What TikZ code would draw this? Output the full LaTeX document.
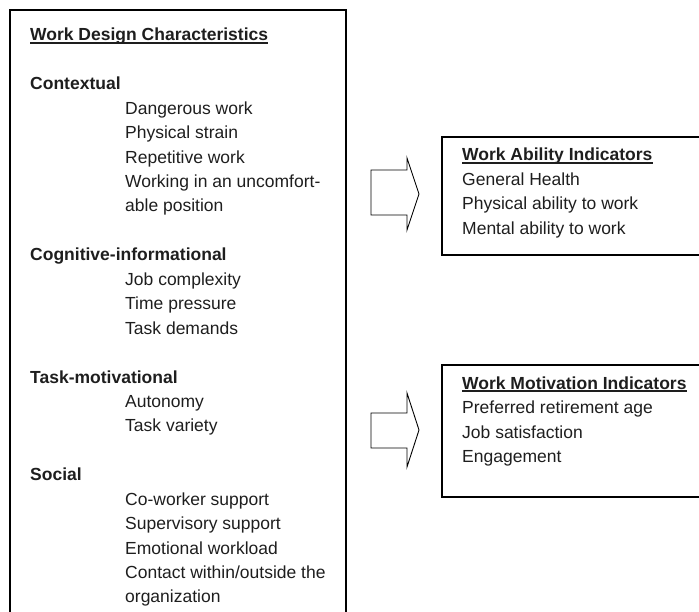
\documentclass[tikz,border=0pt]{standalone}
\usepackage{fontspec}
\setmainfont{Liberation Sans}
\definecolor{inkgray}{HTML}{1E1E1E}
\tikzset{
  heading/.style={anchor=base west, inner sep=0pt, text=inkgray, font=\fontsize{17.5}{21}\selectfont\bfseries},
  item/.style={anchor=base west, inner sep=0pt, text=inkgray, font=\fontsize{17.5}{21}\selectfont},
  frame/.style={line width=1.6pt},
  ruleline/.style={line width=1.2pt, inkgray},
  blockarrow/.style={line width=0.9pt, line join=miter}
}

\begin{document}
\begin{tikzpicture}[x=1pt, y=-1pt]
            \useasboundingbox (0, 0) rectangle (699, 612);
            % work design box
            \draw[frame] (10, 612) -- (10, 10) -- (346, 10) -- (346, 612);
            \node[heading] (wdc) at (30, 41) {Work Design Characteristics};
            \draw[ruleline] ([yshift=-2pt]wdc.base west) -- ([yshift=-2pt]wdc.base east);
            \node[heading] (ctx) at (30, 89.9) {Contextual};
            \node[item] (ctx1) at (125, 114.3) {Dangerous work};
            \node[item] (ctx2) at (125, 138.7) {Physical strain};
            \node[item] (ctx3) at (125, 163.2) {Repetitive work};
            \node[item] (ctx4) at (125, 187.6) {Working in an uncomfort-};
            \node[item] (ctx5) at (125, 212.0) {able position};
            \node[heading] (cog) at (30, 260.9) {Cognitive-informational};
            \node[item] (cog1) at (125, 285.3) {Job complexity};
            \node[item] (cog2) at (125, 309.7) {Time pressure};
            \node[item] (cog3) at (125, 334.2) {Task demands};
            \node[heading] (tsk) at (30, 383.0) {Task-motivational};
            \node[item] (tsk1) at (125, 407.5) {Autonomy};
            \node[item] (tsk2) at (125, 431.9) {Task variety};
            \node[heading] (soc) at (30, 480.7) {Social};
            \node[item] (soc1) at (125, 505.2) {Co-worker support};
            \node[item] (soc2) at (125, 529.6) {Supervisory support};
            \node[item] (soc3) at (125, 554.0) {Emotional workload};
            \node[item] (soc4) at (125, 578.5) {Contact within/outside the};
            \node[item] (soc5) at (125, 602.9) {organization};
            % work ability box
            \draw[frame] (699, 137) -- (442, 137) -- (442, 255) -- (699, 255);
            \node[heading] (wai) at (462, 161) {Work Ability Indicators};
            \draw[ruleline] ([yshift=-2pt]wai.base west) -- ([yshift=-2pt]wai.base east);
            \node[item] (wai1) at (462, 185.5) {General Health};
            \node[item] (wai2) at (462, 210) {Physical ability to work};
            \node[item] (wai3) at (462, 234.5) {Mental ability to work};
            % work motivation box
            \draw[frame] (699, 365) -- (442, 365) -- (442, 497) -- (699, 497);
            \node[heading] (wmi) at (462, 389) {Work Motivation Indicators};
            \draw[ruleline] ([yshift=-2pt]wmi.base west) -- ([yshift=-2pt]wmi.base east);
            \node[item] (wmi1) at (462, 413.5) {Preferred retirement age};
            \node[item] (wmi2) at (462, 438) {Job satisfaction};
            \node[item] (wmi3) at (462, 462.5) {Engagement};
            % block arrows
            \draw[blockarrow] (371, 170) -- (407, 170) -- (407, 158) -- (419, 194) -- (407, 230) -- (407, 215) -- (371, 215) -- cycle;
            \draw[blockarrow] (371, 413) -- (407, 413) -- (407, 393) -- (419, 430) -- (407, 467) -- (407, 448) -- (371, 448) -- cycle;
        \end{tikzpicture}
\end{document}
